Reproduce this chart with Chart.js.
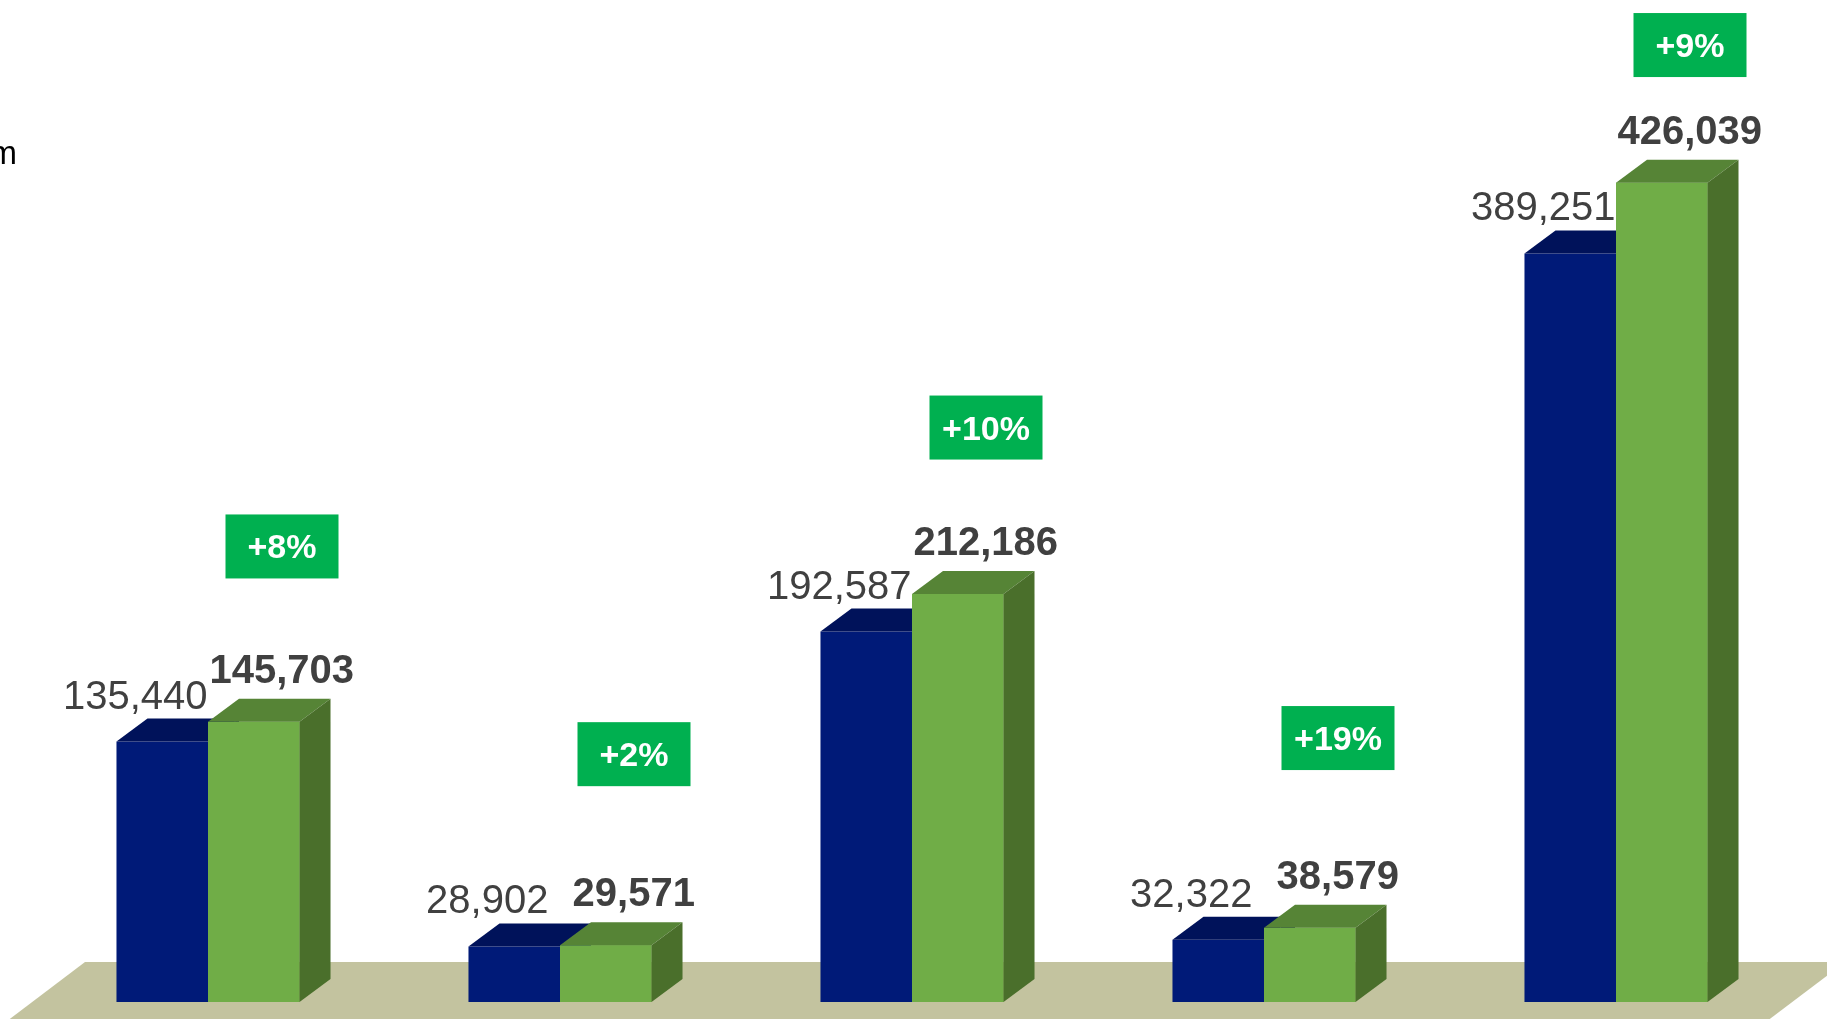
<!DOCTYPE html>
<html>
<head>
<meta charset="utf-8">
<script src="https://cdn.jsdelivr.net/npm/chart.js@4/dist/chart.umd.min.js"></script>
<style>
  html, body { margin: 0; padding: 0; background: #fff; }
  #wrap { width: 1827px; height: 1019px; position: relative; }
</style>
</head>
<body>
<div id="wrap"><canvas id="chart"></canvas></div>
<script>
const categories = ['A', 'B', 'C', 'D', 'E'];
const previousValues = [135440, 28902, 192587, 32322, 389251];
const currentValues = [145703, 29571, 212186, 38579, 426039];
const changeLabels = ['+8%', '+2%', '+10%', '+19%', '+9%'];

const FONT = '"Liberation Sans", Arial, sans-serif';
const DEPTH_X = 31;
const DEPTH_Y = 23;

const faceColors = [
  { top: '#00125a', side: '#001462' },
  { top: '#568436', side: '#4a6f2b' }
];

const fmt = v => v.toLocaleString('en-US');

function drawFaces(ctx, bar, colors) {
  const x0 = bar.x - bar.width / 2;
  const x1 = bar.x + bar.width / 2;
  const t = bar.y;
  const b = bar.base;
  ctx.fillStyle = colors.top;
  ctx.beginPath();
  ctx.moveTo(x0, t);
  ctx.lineTo(x0 + DEPTH_X, t - DEPTH_Y);
  ctx.lineTo(x1 + DEPTH_X, t - DEPTH_Y);
  ctx.lineTo(x1, t);
  ctx.closePath();
  ctx.fill();
  ctx.fillStyle = colors.side;
  ctx.beginPath();
  ctx.moveTo(x1, t);
  ctx.lineTo(x1 + DEPTH_X, t - DEPTH_Y);
  ctx.lineTo(x1 + DEPTH_X, b - DEPTH_Y);
  ctx.lineTo(x1, b);
  ctx.closePath();
  ctx.fill();
}

const bars3d = {
  id: 'bars3d',
  beforeDatasetsDraw(chart) {
    const { ctx, chartArea: { left, right, bottom } } = chart;
    // floor
    const top = bottom - 40;
    const skew = 1.32;
    const low = chart.height + 20;
    ctx.save();
    ctx.fillStyle = '#c3c39f';
    ctx.beginPath();
    ctx.moveTo(left + 53, top);
    ctx.lineTo(right + 53, top);
    ctx.lineTo(right + 53 - (low - top) * skew, low);
    ctx.lineTo(left + 53 - (low - top) * skew, low);
    ctx.closePath();
    ctx.fill();
    ctx.restore();
  },
  afterDatasetsDraw(chart) {
    const { ctx, scales: { y } } = chart;
    const prev = chart.getDatasetMeta(0).data;
    const curr = chart.getDatasetMeta(1).data;
    ctx.save();
    // depth faces: blue first, then repaint green front over it
    prev.forEach((bar, i) => {
      drawFaces(ctx, bar, faceColors[0]);
      curr[i].draw(ctx, chart.chartArea);
      drawFaces(ctx, curr[i], faceColors[1]);
    });

    ctx.fillStyle = '#404040';
    ctx.textAlign = 'center';
    ctx.textBaseline = 'alphabetic';
    prev.forEach((bar, i) => {
      ctx.font = '40px ' + FONT;
      ctx.fillText(fmt(previousValues[i]), bar.x - 27, bar.y - 33);
    });
    curr.forEach((bar, i) => {
      ctx.font = 'bold 40px ' + FONT;
      ctx.fillStyle = '#404040';
      ctx.fillText(fmt(currentValues[i]), bar.x + 28, bar.y - 39);

      // change badge
      const cx = bar.x - bar.width / 2 + 74;
      const top = Math.max(10, y.getPixelForValue(currentValues[i] * 0.93 + 118000));
      const w = 113, h = 64;
      ctx.fillStyle = '#00b050';
      ctx.fillRect(cx - w / 2, top, w, h);
      ctx.fillStyle = '#ffffff';
      ctx.font = 'bold 34px ' + FONT;
      ctx.fillText(changeLabels[i], cx, top + h / 2 + 12);
    });

    // clipped axis title fragment at the left edge
    ctx.fillStyle = '#000000';
    ctx.font = '33px ' + FONT;
    ctx.textAlign = 'right';
    ctx.fillText('m', 17, 164);
    ctx.restore();
  }
};

new Chart(document.getElementById('chart'), {
  type: 'bar',
  data: {
    labels: categories,
    datasets: [
      {
        label: 'Previous',
        data: previousValues,
        backgroundColor: '#001a78'
      },
      {
        label: 'Current',
        data: currentValues,
        backgroundColor: '#70ad47'
      }
    ]
  },
  options: {
    responsive: true,
    maintainAspectRatio: false,
    animation: false,
    events: [],
    layout: {
      padding: { left: 32, right: 35, top: 0, bottom: 17 }
    },
    datasets: {
      bar: {
        categoryPercentage: 0.52,
        barPercentage: 1.0,
        borderWidth: 0
      }
    },
    scales: {
      x: { display: false },
      y: { display: false, min: 0, max: 521000 }
    },
    plugins: {
      legend: { display: false },
      tooltip: { enabled: false }
    }
  },
  plugins: [bars3d]
});
</script>
</body>
</html>
